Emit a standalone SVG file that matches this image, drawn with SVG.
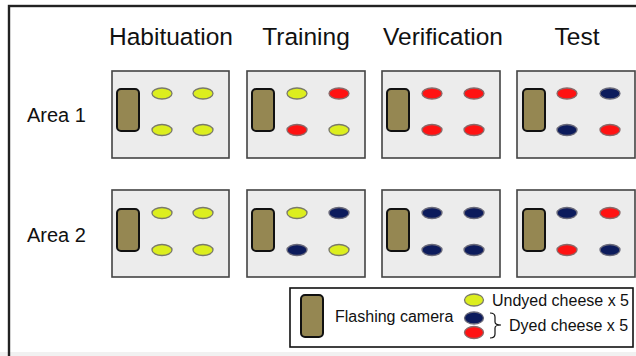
<svg xmlns="http://www.w3.org/2000/svg" xmlns:xlink="http://www.w3.org/1999/xlink" width="636" height="356" viewBox="0 0 636 356">
  <style>
    text { font-family: "Liberation Sans", Arial, sans-serif; fill: #111; }
    .head { font-size: 24.5px; text-anchor: middle; }
    .row { font-size: 20px; }
    .leg { font-size: 16px; }
    .arena { fill: #ececec; stroke: #444; stroke-width: 1.6; }
    .cam { fill: #958752; stroke: #111; stroke-width: 2; }
    .y { fill: #dcee1e; stroke: #7a7a6a; stroke-width: 1.3; }
    .r { fill: #ff1212; stroke: #8a6a6a; stroke-width: 1.3; }
    .n { fill: #0c1b5c; stroke: #6a6a7a; stroke-width: 1.3; }
  </style>
  <defs>
    <rect id="cam" x="0" y="0" width="22" height="42" rx="4" class="cam"/>
  </defs>

  <!-- page background and frame -->
  <rect x="0" y="0" width="636" height="356" fill="#ffffff"/>
  <rect x="0" y="352" width="636" height="4" fill="#f1f1f1"/>
  <rect x="9" y="6" width="640" height="360" fill="none" stroke="#222" stroke-width="2.4"/>

  <!-- column headers -->
  <text class="head" x="171" y="45">Habituation</text>
  <text class="head" x="306" y="45">Training</text>
  <text class="head" x="443" y="45">Verification</text>
  <text class="head" x="577" y="45">Test</text>

  <!-- row labels -->
  <text class="row" x="27" y="122">Area 1</text>
  <text class="row" x="27" y="242">Area 2</text>

  <!-- Area 1 -->
  <g id="a1-habituation" transform="translate(112,71)">
    <rect class="arena" width="117" height="87"/>
    <use xlink:href="#cam" x="5" y="18"/>
    <ellipse class="y" cx="50" cy="22.5" rx="10" ry="5.5"/>
    <ellipse class="y" cx="91" cy="22.5" rx="10" ry="5.5"/>
    <ellipse class="y" cx="50" cy="59" rx="10" ry="5.5"/>
    <ellipse class="y" cx="91" cy="59" rx="10" ry="5.5"/>
  </g>
  <g id="a1-training" transform="translate(247,71)">
    <rect class="arena" width="118" height="87"/>
    <use xlink:href="#cam" x="5" y="18"/>
    <ellipse class="y" cx="50" cy="22.5" rx="10" ry="5.5"/>
    <ellipse class="r" cx="92" cy="22.5" rx="10" ry="5.5"/>
    <ellipse class="r" cx="50" cy="59" rx="10" ry="5.5"/>
    <ellipse class="y" cx="92" cy="59" rx="10" ry="5.5"/>
  </g>
  <g id="a1-verification" transform="translate(382,71)">
    <rect class="arena" width="118" height="87"/>
    <use xlink:href="#cam" x="5" y="18"/>
    <ellipse class="r" cx="50" cy="22.5" rx="10" ry="5.5"/>
    <ellipse class="r" cx="92" cy="22.5" rx="10" ry="5.5"/>
    <ellipse class="r" cx="50" cy="59" rx="10" ry="5.5"/>
    <ellipse class="r" cx="92" cy="59" rx="10" ry="5.5"/>
  </g>
  <g id="a1-test" transform="translate(517,71)">
    <rect class="arena" width="118" height="87"/>
    <use xlink:href="#cam" x="6" y="18"/>
    <ellipse class="r" cx="50" cy="22.5" rx="10" ry="5.5"/>
    <ellipse class="n" cx="93" cy="22.5" rx="10" ry="5.5"/>
    <ellipse class="n" cx="50" cy="59" rx="10" ry="5.5"/>
    <ellipse class="r" cx="93" cy="59" rx="10" ry="5.5"/>
  </g>

  <!-- Area 2 -->
  <g id="a2-habituation" transform="translate(112,190)">
    <rect class="arena" width="117" height="87"/>
    <use xlink:href="#cam" x="5" y="19"/>
    <ellipse class="y" cx="50" cy="23" rx="10" ry="5.5"/>
    <ellipse class="y" cx="91" cy="23" rx="10" ry="5.5"/>
    <ellipse class="y" cx="50" cy="60" rx="10" ry="5.5"/>
    <ellipse class="y" cx="91" cy="60" rx="10" ry="5.5"/>
  </g>
  <g id="a2-training" transform="translate(247,190)">
    <rect class="arena" width="118" height="87"/>
    <use xlink:href="#cam" x="5" y="19"/>
    <ellipse class="y" cx="50" cy="23" rx="10" ry="5.5"/>
    <ellipse class="n" cx="92" cy="23" rx="10" ry="5.5"/>
    <ellipse class="n" cx="50" cy="60" rx="10" ry="5.5"/>
    <ellipse class="y" cx="92" cy="60" rx="10" ry="5.5"/>
  </g>
  <g id="a2-verification" transform="translate(382,190)">
    <rect class="arena" width="118" height="87"/>
    <use xlink:href="#cam" x="5" y="19"/>
    <ellipse class="n" cx="50" cy="23" rx="10" ry="5.5"/>
    <ellipse class="n" cx="92" cy="23" rx="10" ry="5.5"/>
    <ellipse class="n" cx="50" cy="60" rx="10" ry="5.5"/>
    <ellipse class="n" cx="92" cy="60" rx="10" ry="5.5"/>
  </g>
  <g id="a2-test" transform="translate(517,190)">
    <rect class="arena" width="118" height="87"/>
    <use xlink:href="#cam" x="6" y="19"/>
    <ellipse class="n" cx="50" cy="23" rx="10" ry="5.5"/>
    <ellipse class="r" cx="93" cy="23" rx="10" ry="5.5"/>
    <ellipse class="r" cx="50" cy="60" rx="10" ry="5.5"/>
    <ellipse class="n" cx="93" cy="60" rx="10" ry="5.5"/>
  </g>

  <!-- legend -->
  <g id="legend">
    <rect x="290" y="288" width="343" height="59" fill="#fff" stroke="#111" stroke-width="1.6"/>
    <use xlink:href="#cam" x="301" y="295"/>
    <text class="leg" x="335" y="322">Flashing camera</text>
    <ellipse class="y" cx="474" cy="300" rx="9.5" ry="6"/>
    <ellipse class="n" cx="474" cy="318" rx="9.5" ry="6"/>
    <ellipse class="r" cx="474" cy="332.5" rx="9.5" ry="6"/>
    <text class="leg" x="492" y="306">Undyed cheese x 5</text>
    <path d="M490,313 Q495,313 495,317 L495,322 Q495,325 501,325 Q495,325 495,328 L495,334 Q495,338 490,338" fill="none" stroke="#111" stroke-width="1.2"/>
    <text class="leg" x="509" y="331">Dyed cheese x 5</text>
  </g>

  <g id="connectors"/>
</svg>
